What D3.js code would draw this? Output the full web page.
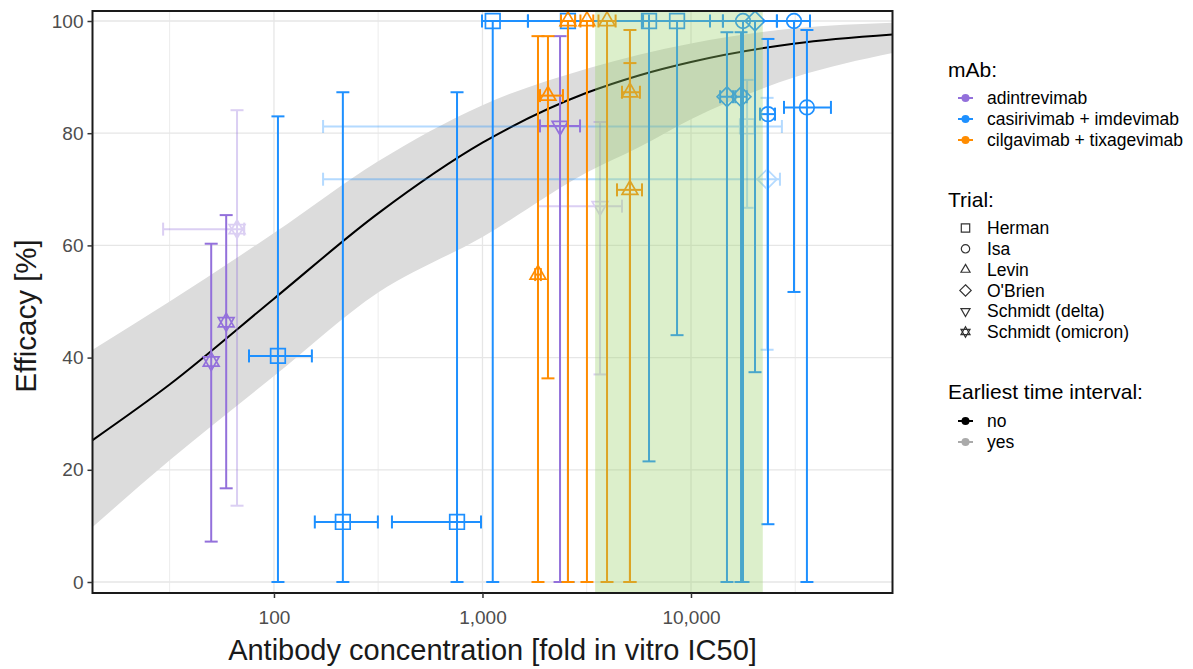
<!DOCTYPE html>
<html><head><meta charset="utf-8">
<script src="https://cdn.jsdelivr.net/npm/d3@7"></script>
<style>body{margin:0;background:#fff;} svg{display:block;font-family:"Liberation Sans",Arial,Helvetica,sans-serif;}</style>
</head><body><svg id="c" width="1193" height="669"></svg>
<script>
// ---------- data ----------
const mabNames = ["adintrevimab", "casirivimab + imdevimab", "cilgavimab + tixagevimab"];
const mabColors = ["#9370DB", "#1E90FF", "#FF8C00"];
const trialNames = ["Herman", "Isa", "Levin", "O'Brien", "Schmidt (delta)", "Schmidt (omicron)"];
const earliestLevels = ["no", "yes"];
const xTicks = [100, 1000, 10000];
const xTickLabels = ["100", "1,000", "10,000"];
const xMinorGrid = [31.6, 316, 3162, 31623];
const yTicks = [0, 20, 40, 60, 80, 100];

// fitted dose-response curve and its confidence band
const curveX    = [13.5, 31.6, 100, 316, 1000, 3162, 5623, 10000, 31623, 92570];
const curveY    = [25.3, 35.2, 50.5, 65.7, 78.3, 87.2, 90.3, 92.7, 96.0, 97.6];
const bandLow   = [9.8, 21.7, 36.7, 51.6, 61.5, 73.0, 77.5, 82.5, 90.0, 94.3];
const bandHigh  = [41.4, 50.0, 62.2, 75.0, 85.0, 91.5, 94.0, 96.0, 98.7, 99.7];
const greenRange = [3470, 22100];

// rows: [trial, earliest, x, xlo, xhi, efficacy, ylo, yhi]
const adintrevimab = [
  ["Schmidt (omicron)", "no", 50, null, null, 39.3, 7.2, 60.3],
  ["Schmidt (omicron)", "no", 59, null, null, 46.3, 16.7, 65.4],
  ["Schmidt (omicron)", "yes", 66.5, 29.4, 72, 62.9, 13.6, 84.1],
  ["Schmidt (delta)", "no", 2355, 1888, 2937, 81.3, 0, 97.3],
  ["Schmidt (delta)", "yes", 3663, 1846, 4667, 67.0, 37.0, 82.0]
];
const casirivimab = [
  ["Herman", "no", 104.5, 75.9, 152, 40.3, 0, 83.0],
  ["Herman", "no", 214, 157, 315, 10.7, 0, 87.3],
  ["Herman", "no", 755, 368, 984, 10.7, 0, 87.3],
  ["Herman", "no", 1120, 995, 1652, 100, 0, 100],
  ["Herman", "no", 2570, 1652, 5889, 100, 0, 100],
  ["Herman", "no", 6291, 5889, 12340, 100, 21.5, 100],
  ["Herman", "no", 8573, 6291, 14230, 100, 44.0, 100],
  ["Herman", "yes", 18580, 172, 27290, 81.2, 66.7, 89.5],
  ["O'Brien", "yes", 23170, 172, 26710, 71.8, 41.4, 86.3],
  ["O'Brien", "no", 14880, 13800, 15900, 86.5, 0, 98.0],
  ["O'Brien", "no", 17380, 16300, 18500, 86.5, 0, 98.0],
  ["Isa", "no", 17760, 14230, 25830, 100, 0, 100],
  ["O'Brien", "no", 20280, null, null, 100, 37.4, 100],
  ["Isa", "no", 23390, 21430, 25290, 83.4, 10.3, 96.8],
  ["Isa", "no", 31190, 25830, 37220, 100, 51.7, 100],
  ["Isa", "no", 35980, 27930, 46910, 84.6, 0, 98.4]
];
const cilgavimab = [
  ["Levin", "no", 1846, 1790, 1905, 54.8, 0, 97.3],
  ["Levin", "no", 2061, 1888, 2432, 86.7, 36.3, 97.3],
  ["Levin", "no", 2570, 2380, 2780, 100, 0, 100],
  ["Levin", "no", 3170, 2950, 3400, 100, 0, 100],
  ["Levin", "no", 3957, 3600, 4350, 100, 0, 100],
  ["Levin", "no", 5096, 4667, 5691, 87.3, 0, 92.5],
  ["Levin", "no", 5096, 4418, 5823, 69.9, 0, 98.4]
];

// ---------- layout ----------
const P = {l: 92.5, r: 892.5, t: 11, b: 593};
const svg = d3.select("#c");
const x = d3.scaleLog().domain([13.48, 92570]).range([P.l, P.r]);
const y = d3.scaleLinear().domain([0, 100]).range([582, 21]);
const color = d3.scaleOrdinal().domain(mabNames).range(mabColors);
const alpha = d3.scaleOrdinal().domain(earliestLevels).range([1, 0.33]);

// shapes
function shapePath(trial, s) {
  const p = d3.path();
  const tri = (dir) => {
    const R = s * 1.25;
    p.moveTo(0, -dir * R);
    p.lineTo(0.866 * R, dir * 0.5 * R);
    p.lineTo(-0.866 * R, dir * 0.5 * R);
    p.closePath();
  };
  if (trial === "Herman") { p.rect(-s, -s, 2 * s, 2 * s); }
  else if (trial === "Isa") { p.moveTo(s, 0); p.arc(0, 0, s, 0, 2 * Math.PI); p.closePath(); }
  else if (trial === "Levin") { tri(1); }
  else if (trial === "O'Brien") { const R = s * 1.35; p.moveTo(0, -R); p.lineTo(R, 0); p.lineTo(0, R); p.lineTo(-R, 0); p.closePath(); }
  else if (trial === "Schmidt (delta)") { tri(-1); }
  else { tri(1); tri(-1); }
  return p.toString();
}

// ---------- panel ----------
const defs = svg.append("defs");
defs.append("clipPath").attr("id", "clip").append("rect")
  .attr("x", P.l).attr("y", P.t).attr("width", P.r - P.l).attr("height", P.b - P.t);

const grid = svg.append("g");
grid.selectAll(".vmin").data(xMinorGrid).join("line")
  .attr("x1", d => x(d)).attr("x2", d => x(d)).attr("y1", P.t).attr("y2", P.b)
  .attr("stroke", "#ececec").attr("stroke-width", 1);
grid.selectAll(".vmaj").data(xTicks).join("line")
  .attr("x1", d => x(d)).attr("x2", d => x(d)).attr("y1", P.t).attr("y2", P.b)
  .attr("stroke", "#e6e6e6").attr("stroke-width", 1.3);
grid.selectAll(".hmaj").data(yTicks).join("line")
  .attr("x1", P.l).attr("x2", P.r).attr("y1", d => y(d)).attr("y2", d => y(d))
  .attr("stroke", "#e6e6e6").attr("stroke-width", 1.3);

const plot = svg.append("g").attr("clip-path", "url(#clip)");
const bandData = curveX.map((v, i) => ({x: v, lo: bandLow[i], hi: bandHigh[i], c: curveY[i]}));
plot.append("path").datum(bandData)
  .attr("d", d3.area().curve(d3.curveMonotoneX).x(d => x(d.x)).y0(d => y(d.lo)).y1(d => y(d.hi)))
  .attr("fill", "#dcdcdc");
plot.append("path").datum(bandData)
  .attr("d", d3.line().curve(d3.curveMonotoneX).x(d => x(d.x)).y(d => y(d.c)))
  .attr("fill", "none").attr("stroke", "#000").attr("stroke-width", 2);

// points
const rows = [];
[adintrevimab, casirivimab, cilgavimab].forEach((arr, mi) => arr.forEach(r => rows.push({
  mab: mabNames[mi], trial: r[0], earliest: r[1], x: r[2], xlo: r[3], xhi: r[4], y: r[5], ylo: r[6], yhi: r[7]
})));
rows.sort((a, b) => (a.earliest === "yes" ? -1 : 0) - (b.earliest === "yes" ? -1 : 0));

const pts = svg.append("g");
const cap = 6.5;
rows.forEach(d => {
  const g = pts.append("g").attr("opacity", alpha(d.earliest))
    .attr("stroke", color(d.mab)).attr("fill", "none").attr("stroke-width", 2);
  const cx = x(d.x), cy = y(d.y);
  g.append("line").attr("x1", cx).attr("x2", cx).attr("y1", y(d.ylo)).attr("y2", y(d.yhi));
  g.append("line").attr("x1", cx - cap).attr("x2", cx + cap).attr("y1", y(d.ylo)).attr("y2", y(d.ylo));
  g.append("line").attr("x1", cx - cap).attr("x2", cx + cap).attr("y1", y(d.yhi)).attr("y2", y(d.yhi));
  if (d.xlo != null) {
    g.append("line").attr("x1", x(d.xlo)).attr("x2", x(d.xhi)).attr("y1", cy).attr("y2", cy);
    g.append("line").attr("x1", x(d.xlo)).attr("x2", x(d.xlo)).attr("y1", cy - cap).attr("y2", cy + cap);
    g.append("line").attr("x1", x(d.xhi)).attr("x2", x(d.xhi)).attr("y1", cy - cap).attr("y2", cy + cap);
  }
  g.append("path").attr("d", shapePath(d.trial, 7.3)).attr("transform", `translate(${cx},${cy})`)
    .attr("stroke-width", 1.7);
});

// green highlight region on top
svg.append("rect")
  .attr("x", x(greenRange[0])).attr("width", x(greenRange[1]) - x(greenRange[0]))
  .attr("y", P.t).attr("height", P.b - P.t)
  .attr("fill", "#9bd16a").attr("opacity", 0.35);

// border
svg.append("rect").attr("x", P.l).attr("y", P.t).attr("width", P.r - P.l).attr("height", P.b - P.t)
  .attr("fill", "none").attr("stroke", "#1a1a1a").attr("stroke-width", 2);

// axes
const xAxis = svg.append("g").attr("transform", `translate(0,${P.b})`)
  .call(d3.axisBottom(x).tickValues(xTicks).tickFormat((d, i) => xTickLabels[i]).tickSize(5).tickPadding(13));
const yAxis = svg.append("g").attr("transform", `translate(${P.l},0)`)
  .call(d3.axisLeft(y).tickValues(yTicks).tickSize(5).tickPadding(4));
[xAxis, yAxis].forEach(a => {
  a.select(".domain").remove();
  a.selectAll(".tick line").attr("stroke", "#333").attr("stroke-width", 1.5);
  a.selectAll(".tick text").attr("fill", "#4d4d4d").style("font-size", "19px")
    .style("font-family", "'Liberation Sans', Arial, sans-serif");
});

svg.append("text").attr("x", (P.l + P.r) / 2).attr("y", 660).attr("text-anchor", "middle")
  .style("font-size", "29px").attr("fill", "#1a1a1a").text("Antibody concentration [fold in vitro IC50]");
svg.append("text").attr("transform", `translate(36,316) rotate(-90)`).attr("text-anchor", "middle")
  .style("font-size", "29.5px").attr("fill", "#1a1a1a").text("Efficacy [%]");

// ---------- legends ----------
const L = svg.append("g").attr("transform", "translate(948,0)");
L.append("text").attr("x", 0).attr("y", 77).style("font-size", "21px").text("mAb:");
mabNames.forEach((m, i) => {
  const yy = 98 + i * 21;
  L.append("line").attr("x1", 10).attr("x2", 25).attr("y1", yy).attr("y2", yy)
    .attr("stroke", color(m)).attr("stroke-width", 2);
  L.append("circle").attr("cx", 17.5).attr("cy", yy).attr("r", 4).attr("fill", color(m));
  L.append("text").attr("x", 39).attr("y", yy).attr("dy", "0.35em").style("font-size", "17.5px").text(m);
});
L.append("text").attr("x", 0).attr("y", 207).style("font-size", "21px").text("Trial:");
trialNames.forEach((t, i) => {
  const yy = 228 + i * 20.8;
  L.append("path").attr("d", shapePath(t, 4.2)).attr("transform", `translate(17.5,${yy})`)
    .attr("fill", "none").attr("stroke", "#333").attr("stroke-width", 1.2);
  L.append("text").attr("x", 39).attr("y", yy).attr("dy", "0.35em").style("font-size", "17.5px").text(t);
});
L.append("text").attr("x", 0).attr("y", 399).style("font-size", "21px").text("Earliest time interval:");
earliestLevels.forEach((e, i) => {
  const yy = 421 + i * 21;
  const g = L.append("g").attr("opacity", alpha(e));
  g.append("line").attr("x1", 10).attr("x2", 25).attr("y1", yy).attr("y2", yy)
    .attr("stroke", "#000").attr("stroke-width", 2);
  g.append("circle").attr("cx", 17.5).attr("cy", yy).attr("r", 4).attr("fill", "#000");
  L.append("text").attr("x", 39).attr("y", yy).attr("dy", "0.35em").style("font-size", "17.5px").text(e);
});
</script>
</body></html>
